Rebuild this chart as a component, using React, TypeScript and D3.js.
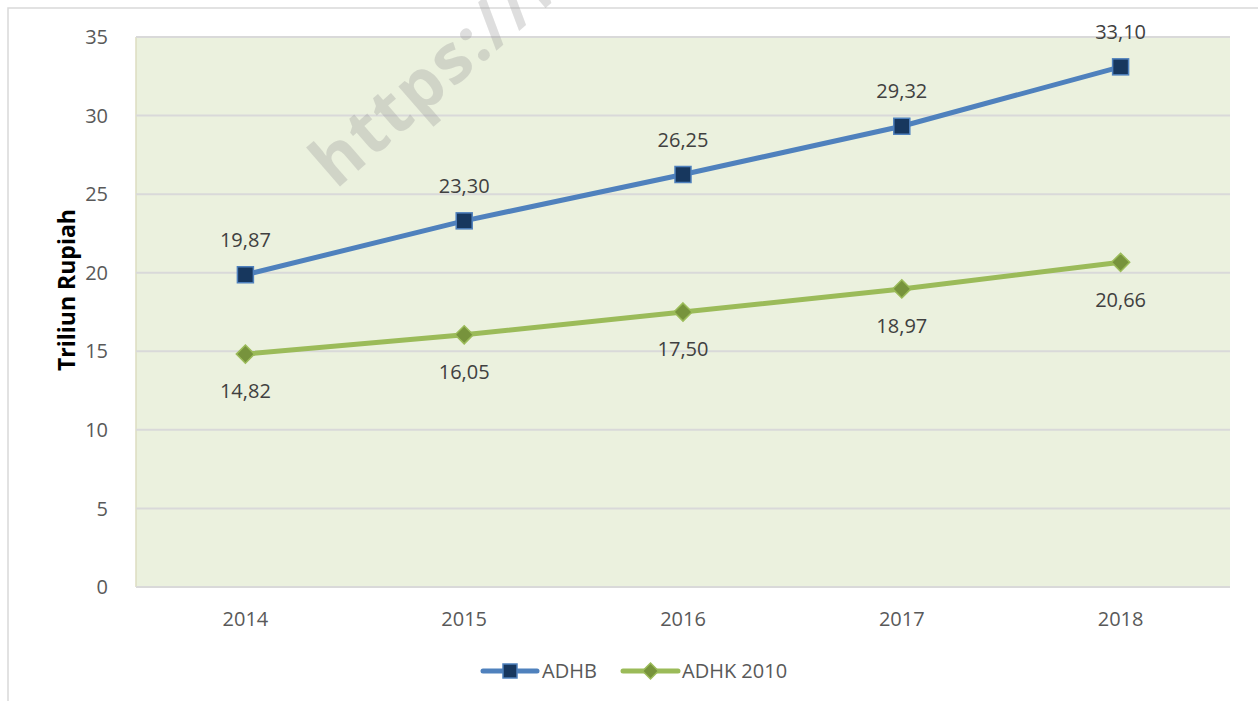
import * as d3 from 'd3';
import React, { useEffect, useRef } from 'react';

const years = ['2014', '2015', '2016', '2017', '2018'];
const adhb = [19.87, 23.3, 26.25, 29.32, 33.1];
const adhk = [14.82, 16.05, 17.5, 18.97, 20.66];
const yTicks = [0, 5, 10, 15, 20, 25, 30, 35];

const W = 1258;
const H = 701;
const FONT = '"Open Sans", "Noto Sans", sans-serif';

const fmt = (v: number) => v.toFixed(2).replace('.', ',');

const App = () => {
  const svgRef = useRef<SVGSVGElement>(null);

  useEffect(() => {
    const svg = d3.select(svgRef.current);
    svg.selectAll('*').remove();

    const left = 136, right = 1230, top = 37, bottom = 587;

    const x = d3.scaleBand().domain(years).range([left, right]);
    const y = d3.scaleLinear().domain([0, 35]).range([bottom, top]);
    const cx = (d: string) => (x(d) as number) + x.bandwidth() / 2;

    // outer chart border
    svg.append('rect')
      .attr('x', 8).attr('y', 8).attr('width', W).attr('height', H)
      .attr('fill', '#fff').attr('stroke', '#d9d9d9').attr('stroke-width', 1.5);

    // plot area
    svg.append('rect')
      .attr('x', left).attr('y', top).attr('width', right - left).attr('height', bottom - top)
      .attr('fill', '#ebf1de');
    svg.append('line')
      .attr('x1', left).attr('x2', left).attr('y1', top).attr('y2', bottom)
      .attr('stroke', '#dcdcc0').attr('stroke-width', 1.5);

    svg.append('g')
      .selectAll('line')
      .data(yTicks)
      .join('line')
      .attr('x1', left).attr('x2', right)
      .attr('y1', d => y(d)).attr('y2', d => y(d))
      .attr('stroke', '#d9d9d9').attr('stroke-width', 2);

    // watermark (cut off by the top edge, as in the source)
    svg.append('text')
      .attr('transform', 'translate(336,190) rotate(-41)')
      .attr('font-family', FONT).attr('font-weight', 'bold').attr('font-size', 68)
      .attr('letter-spacing', 2)
      .attr('fill', '#999999').attr('fill-opacity', 0.32)
      .text('https://b');

    // y tick labels
    svg.append('g')
      .selectAll('text')
      .data(yTicks)
      .join('text')
      .attr('x', 108).attr('y', d => y(d))
      .attr('dy', '0.36em')
      .attr('text-anchor', 'end')
      .attr('font-family', FONT).attr('font-size', 20)
      .attr('fill', '#595959')
      .text(d => d);

    // x labels
    svg.append('g')
      .selectAll('text')
      .data(years)
      .join('text')
      .attr('x', d => cx(d)).attr('y', 626)
      .attr('text-anchor', 'middle')
      .attr('font-family', FONT).attr('font-size', 20)
      .attr('fill', '#595959')
      .text(d => d);

    // axis title
    svg.append('text')
      .attr('transform', `translate(75,${(top + bottom) / 2 - 22}) rotate(-90)`)
      .attr('text-anchor', 'middle')
      .attr('font-family', FONT).attr('font-size', 23).attr('font-weight', 'bold')
      .attr('fill', '#000')
      .text('Triliun Rupiah');

    const line = d3.line<number>()
      .x((_, i) => cx(years[i]))
      .y(d => y(d));

    const diamond = d3.symbol().type(d3.symbolDiamond2).size(210);

    // ADHK 2010
    svg.append('path')
      .attr('d', line(adhk))
      .attr('fill', 'none').attr('stroke', '#9bbb59').attr('stroke-width', 5)
      .attr('stroke-linejoin', 'round');
    svg.append('g')
      .selectAll('path')
      .data(adhk)
      .join('path')
      .attr('d', diamond() as string)
      .attr('transform', (d, i) => `translate(${cx(years[i])},${y(d)})`)
      .attr('fill', '#77933c').attr('stroke', '#9bbb59').attr('stroke-width', 1.5);

    // ADHB
    svg.append('path')
      .attr('d', line(adhb))
      .attr('fill', 'none').attr('stroke', '#4f81bd').attr('stroke-width', 5)
      .attr('stroke-linejoin', 'round');
    svg.append('g')
      .selectAll('rect')
      .data(adhb)
      .join('rect')
      .attr('x', (d, i) => cx(years[i]) - 8).attr('y', d => y(d) - 8)
      .attr('width', 16).attr('height', 16)
      .attr('fill', '#17375e').attr('stroke', '#4f81bd').attr('stroke-width', 1.5);

    // data labels
    svg.append('g')
      .selectAll('text')
      .data(adhb)
      .join('text')
      .attr('x', (d, i) => cx(years[i])).attr('y', d => y(d) - 35)
      .attr('dy', '0.36em')
      .attr('text-anchor', 'middle')
      .attr('font-family', FONT).attr('font-size', 20)
      .attr('fill', '#404040')
      .text(d => fmt(d));
    svg.append('g')
      .selectAll('text')
      .data(adhk)
      .join('text')
      .attr('x', (d, i) => cx(years[i])).attr('y', d => y(d) + 37)
      .attr('dy', '0.36em')
      .attr('text-anchor', 'middle')
      .attr('font-family', FONT).attr('font-size', 20)
      .attr('fill', '#404040')
      .text(d => fmt(d));

    // legend
    const legend = [
      { name: 'ADHB', x1: 483, x2: 537, color: '#4f81bd', fill: '#17375e', shape: 'square', tx: 542 },
      { name: 'ADHK 2010', x1: 623, x2: 678, color: '#9bbb59', fill: '#77933c', shape: 'diamond', tx: 682 },
    ];
    const ly = 671;
    legend.forEach(l => {
      const g = svg.append('g');
      g.append('line')
        .attr('x1', l.x1).attr('x2', l.x2).attr('y1', ly).attr('y2', ly)
        .attr('stroke', l.color).attr('stroke-width', 5).attr('stroke-linecap', 'round');
      const mx = (l.x1 + l.x2) / 2;
      if (l.shape === 'square') {
        g.append('rect')
          .attr('x', mx - 7).attr('y', ly - 7).attr('width', 14).attr('height', 14)
          .attr('fill', l.fill).attr('stroke', l.color).attr('stroke-width', 1.5);
      } else {
        g.append('path')
          .attr('d', d3.symbol().type(d3.symbolDiamond2).size(160)() as string)
          .attr('transform', `translate(${mx},${ly})`)
          .attr('fill', l.fill).attr('stroke', l.color).attr('stroke-width', 1.5);
      }
      g.append('text')
        .attr('x', l.tx).attr('y', ly).attr('dy', '0.36em')
        .attr('font-family', FONT).attr('font-size', 20)
        .attr('fill', '#595959')
        .text(l.name);
    });
  }, []);

  return (
    <svg
      ref={svgRef}
      width={W}
      height={H}
      style={{ position: 'absolute', left: 0, top: 0, display: 'block', background: '#fff' }}
    />
  );
};

export default App;
